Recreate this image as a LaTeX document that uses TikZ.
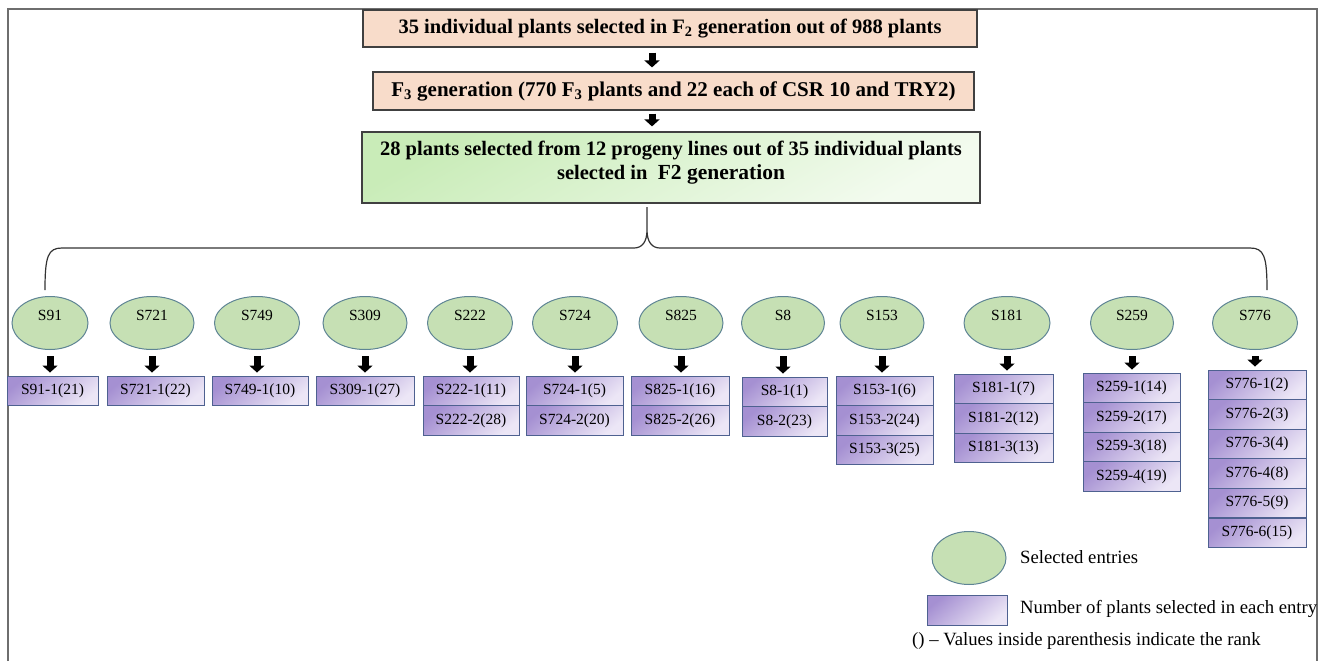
\documentclass[tikz,border=0pt]{standalone}
\usepackage{fontspec}
\setmainfont{Liberation Serif}
\usetikzlibrary{arrows.meta,shapes.geometric}
\definecolor{peach}{HTML}{F8DCCA}
\definecolor{gdark}{HTML}{C9ECB8}
\definecolor{glight}{HTML}{F3FBEF}
\definecolor{ellfill}{HTML}{C6E0B4}
\definecolor{elldraw}{HTML}{5E8494}
\definecolor{pdark}{HTML}{A590D2}
\definecolor{plight}{HTML}{ECE6F6}
\definecolor{pdraw}{HTML}{4E6190}
\definecolor{framec}{HTML}{6E6E6E}
\tikzset{
  topbox/.style={draw=black!75, line width=1.2pt, fill=peach, inner sep=0pt,
    font=\fontsize{20.5}{24}\selectfont\bfseries},
  sel/.style={ellipse, draw=elldraw, line width=1pt, fill=ellfill, inner sep=0pt,
    minimum height=53pt, font=\fontsize{15.5}{18}\selectfont, text height=10pt, text depth=16pt},
  cell/.style={draw=pdraw, line width=1pt, top color=pdark, bottom color=plight,
    shading angle=40, minimum height=29.5pt, inner sep=0pt,
    font=\fontsize{15.5}{18}\selectfont},
  barrow/.style={line width=7pt, -{Triangle[width=15pt,length=7pt]}},
  brace/.style={draw=black!80, line width=1.2pt},
  legtext/.style={anchor=west, inner sep=0pt, font=\fontsize{18.7}{22}\selectfont},
}
\begin{document}
\begin{tikzpicture}[x=1pt,y=-1pt]
\useasboundingbox (0,0) rectangle (1327,661);
% frame
\draw[framec, line width=2pt] (7.5,661) -- (7.5,9.5) -- (1316.5,9.5) -- (1316.5,661);
% top boxes
\node[topbox, minimum width=614pt, minimum height=37pt] (b1) at (670,28.5)
  {35 individual plants selected in F\textsubscript{2} generation out of 988 plants};
\node[topbox, minimum width=601pt, minimum height=38pt, font=\fontsize{21}{24}\selectfont\bfseries] (b2) at (673.5,91)
  {F\textsubscript{3} generation (770 F\textsubscript{3} plants and 22 each of CSR 10 and TRY2)};
\node[draw=black!75, line width=1.2pt, top color=gdark, bottom color=glight, shading angle=30,
  minimum width=618pt, minimum height=71pt, inner sep=0pt, align=center,
  font=\fontsize{20.5}{24}\selectfont\bfseries] (b3) at (671,167.5)
  {28 plants selected from 12 progeny lines out of 35 individual plants\\
   selected in \ {\fontsize{21.5}{24}\selectfont F2 generation}\\[-10pt]\mbox{}};
\coordinate (ax) at (652,0);
\draw[barrow, shorten <=5pt, shorten >=4pt] (b1.south -| ax) -- (b2.north -| ax);
\draw[barrow, shorten <=3pt, shorten >=5pt] (b2.south -| ax) -- (b3.north -| ax);
% brace
\coordinate (bl) at (45,290);
\coordinate (br) at (1267,290);
\coordinate (cusp) at (647,207);
\draw[brace] (bl) .. controls (45,256) and (48,248) .. (62,248) -- (634,248)
  .. controls (642,248) and (647,242) .. (647,230) -- (cusp) -- (647,230)
  .. controls (647,242) and (652,248) .. (660,248) -- (1250,248)
  .. controls (1264,248) and (1267,256) .. (br);
% columns
\foreach \n/\ex/\ew/\bl/\br/\bt/\items in {
  91/50/76/7/98/376/{S91-1(21)},
  721/152/84/107/204/376/{S721-1(22)},
  749/257/85/212/308/376/{S749-1(10)},
  309/365/84/316/414/376/{S309-1(27)},
  222/470/85/423/519/376/{S222-1(11),S222-2(28)},
  724/575/85/526/623/376/{S724-1(5),S724-2(20)},
  825/681/84/631/729/376/{S825-1(16),S825-2(26)},
  8/783/83/742/827/377/{S8-1(1),S8-2(23)},
  153/882/84/836/933/376/{S153-1(6),S153-2(24),S153-3(25)},
  181/1007/86/954/1053/374/{S181-1(7),S181-2(12),S181-3(13)},
  259/1132/83/1083/1180/373/{S259-1(14),S259-2(17),S259-3(18),S259-4(19)},
  776/1255/85/1208/1306/370/{S776-1(2),S776-2(3),S776-3(4),S776-4(8),S776-5(9),S776-6(15)}%
}{
  \node[sel, minimum width=\ew pt] (e\n) at (\ex,323) {S\n};
  \foreach \t [count=\i] in \items {
    \node[cell, minimum width={(\br-\bl)*1pt}] (c\n-\i) at ({(\bl+\br)/2},{\bt+(\i-0.5)*29.6}) {\t};
  }
  \draw[barrow, shorten <=6pt, shorten >=3pt] (e\n.south) -- (e\n.south |- c\n-1.north);
}
% legend
\node[sel, minimum width=74pt] (le) at (969,558) {};
\node[legtext] (lt1) at (1020,557) {Selected entries};
\node[cell, minimum width=80pt, minimum height=30pt] (lc) at (967,610) {};
\node[legtext] (lt2) at (1020,609) {Number of plants selected in each entry};
\node[legtext] (lt3) at (912,641) {() -- Values inside parenthesis indicate the rank};
\end{tikzpicture}
\end{document}
